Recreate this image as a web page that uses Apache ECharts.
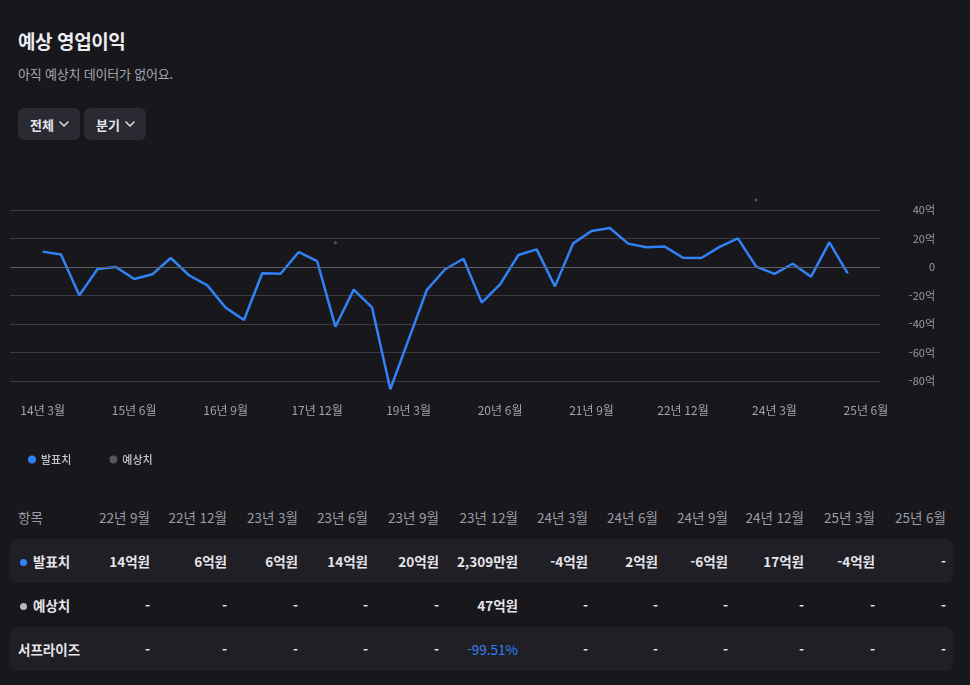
<!DOCTYPE html>
<html lang="ko">
<head>
<meta charset="utf-8">
<script src="https://cdn.jsdelivr.net/npm/echarts@6.0.0/dist/echarts.min.js"></script>
<style>
  html, body { margin: 0; padding: 0; background: #17171c; }
  body { width: 970px; height: 685px; position: relative; overflow: hidden;
         font-family: "Noto Sans CJK KR", "Noto Sans", sans-serif; color: #e8e8ec; }
  .title { position: absolute; left: 18px; top: 27px; font-size: 19px; font-weight: 700; color: #ececf0; letter-spacing: -0.4px; }
  .sub { position: absolute; left: 18px; top: 64px; font-size: 13px; color: #a5a5ad; letter-spacing: -0.2px; }
  .btn { position: absolute; top: 108px; height: 32px; border-radius: 6px; background: #2a2a32;
         font-size: 13px; font-weight: 700; color: #e4e4ea; display: flex; align-items: center; box-sizing: border-box; padding-left: 12px; }
  .btn svg { margin-left: 5px; }
  #chart { position: absolute; left: 0; top: 150px; width: 970px; height: 330px; }
  .tbl { position: absolute; left: 10px; top: 495px; width: 943px; }
  .row { position: relative; height: 44px; border-radius: 7px; }
  .row.shade { background: #1f1f25; }
  .cell { position: absolute; top: 0; height: 44px; line-height: 44px; font-size: 13.5px; white-space: nowrap; }
  .head .cell { color: #9d9da5; font-weight: 400; }
  .body .cell { font-weight: 700; color: #e6e6ea; }
  .blue { color: #3182f6 !important; font-weight: 400 !important; }
  .dot { display: inline-block; width: 7px; height: 7px; border-radius: 50%; margin-right: 6px; vertical-align: 1px; }
</style>
</head>
<body>
<div class="title">예상 영업이익</div>
<div class="sub">아직 예상치 데이터가 없어요.</div>
<div class="btn" style="left:18px;width:62px;">전체<svg width="10" height="6" viewBox="0 0 10 6"><path d="M1 1 L5 5 L9 1" stroke="#d8d8de" stroke-width="1.6" fill="none" stroke-linecap="round" stroke-linejoin="round"/></svg></div>
<div class="btn" style="left:84px;width:62px;">분기<svg width="10" height="6" viewBox="0 0 10 6"><path d="M1 1 L5 5 L9 1" stroke="#d8d8de" stroke-width="1.6" fill="none" stroke-linecap="round" stroke-linejoin="round"/></svg></div>
<div id="chart"></div>
<div class="tbl" id="tbl"></div>
<script>
// quarters, 14년 3월 ~ 25년 6월
var quarters = [
  '14년 3월', '14년 6월', '14년 9월', '14년 12월',
  '15년 3월', '15년 6월', '15년 9월', '15년 12월',
  '16년 3월', '16년 6월', '16년 9월', '16년 12월',
  '17년 3월', '17년 6월', '17년 9월', '17년 12월',
  '18년 3월', '18년 6월', '18년 9월', '18년 12월',
  '19년 3월', '19년 6월', '19년 9월', '19년 12월',
  '20년 3월', '20년 6월', '20년 9월', '20년 12월',
  '21년 3월', '21년 6월', '21년 9월', '21년 12월',
  '22년 3월', '22년 6월', '22년 9월', '22년 12월',
  '23년 3월', '23년 6월', '23년 9월', '23년 12월',
  '24년 3월', '24년 6월', '24년 9월', '24년 12월',
  '25년 3월', '25년 6월'
];

// 발표치 (억원)
var actual = [
  10.8, 8.7, -19.9, -1.4, 0, -8.4, -5.1, 6.3,
  -5.8, -12.9, -28.5, -37.2, -4.4, -4.7, 10.5, 4.2,
  -41.9, -15.9, -28.3, -85.8, -51, -16.1, -1.6, 5.8,
  -25.0, -12.2, 8.4, 12.4, -13.6, 16.6, 25.3, 27.4,
  16.4, 13.8, 14.3, 6.5, 6.3, 14.1, 20.1, 0.2309,
  -4.8, 2.3, -6.8, 17.3, -4.4, null
];

// 예상치 (억원)
var estimate = [
  null, null, null, null, null, null, null, null,
  null, null, null, null, null, null, null, null,
  17.1, null, null, null, null, null, null, null,
  null, null, null, null, null, null, null, null,
  null, null, null, null, null, null, null, 47,
  null, null, null, null, null, null
];

var xLabelIdx = [0, 5, 10, 15, 20, 25, 30, 35, 40, 45];
var yTicks = [-80, -60, -40, -20, 0, 20, 40];
var tableFrom = 34; // 22년 9월부터 표에 표시

var blue = '#3182f6';
var grey = '#66666e';

function pairs(arr) {
  var out = [];
  arr.forEach(function (v, i) { if (v !== null) out.push([i, v]); });
  return out;
}

var chart = echarts.init(document.getElementById('chart'));

chart.setOption({
  backgroundColor: 'transparent',
  animation: false,
  textStyle: { fontFamily: '"Noto Sans CJK KR", sans-serif' },
  legend: {
    data: ['발표치', '예상치'],
    left: 23,
    top: 299,
    icon: 'circle',
    itemWidth: 8,
    itemHeight: 8,
    itemGap: 38,
    textStyle: { color: '#c4c4cc', fontSize: 11, fontWeight: 500 }
  },
  grid: { left: 10, right: 90, top: 60, height: 171 },
  xAxis: {
    type: 'value',
    min: -1.787,
    max: 45.768,
    splitLine: { show: false },
    axisLine: { show: false },
    axisTick: { show: false },
    axisLabel: {
      customValues: xLabelIdx,
      color: '#a2a2aa',
      fontSize: 12,
      margin: 23,
      formatter: function (v) { return quarters[v] || ''; }
    }
  },
  yAxis: {
    type: 'value',
    position: 'right',
    min: yTicks[0],
    max: yTicks[yTicks.length - 1],
    interval: 20,
    axisLine: { show: false },
    axisTick: { show: false },
    splitLine: { lineStyle: { color: '#3a3a41', width: 1 } },
    axisLabel: {
      color: '#9d9da5',
      fontSize: 11,
      margin: 55,
      align: 'right',
      formatter: function (v) { return v === 0 ? '0' : v + '억'; }
    }
  },
  series: [
    {
      name: '발표치',
      type: 'line',
      data: pairs(actual),
      showSymbol: false,
      symbol: 'none',
      clip: false,
      itemStyle: { color: blue },
      lineStyle: { color: blue, width: 2.5 },
      z: 3,
      markLine: {
        silent: true,
        symbol: 'none',
        label: { show: false },
        lineStyle: { color: '#5e5e66', width: 1, type: 'solid' },
        data: [{ yAxis: 0 }]
      }
    },
    {
      name: '예상치',
      type: 'scatter',
      data: pairs(estimate),
      symbolSize: 3,
      clip: false,
      itemStyle: { color: grey },
      z: 2
    }
  ]
});

// table below the chart
var colRight = [140, 217, 288, 358, 429, 508, 578, 648, 718, 794, 865, 936];

function fmt(v) {
  if (v === null) return '-';
  if (Math.abs(v) < 1) {
    return Math.round(v * 10000).toLocaleString('en-US') + '만원';
  }
  return Math.trunc(v) + '억원';
}

function surprise(a, e) {
  if (a === null || e === null) return '-';
  return ((a - e) / e * 100).toFixed(2) + '%';
}

function cell(text, right, cls) {
  return '<div class="cell' + (cls ? ' ' + cls : '') + '" style="right:' + (943 - right) + 'px">' + text + '</div>';
}

var h = '<div class="row head"><div class="cell" style="left:8px">항목</div>';
var r1 = '<div class="row body shade"><div class="cell" style="left:10px"><span class="dot" style="background:' + blue + '"></span>발표치</div>';
var r2 = '<div class="row body"><div class="cell" style="left:10px"><span class="dot" style="background:#b4b8c0"></span>예상치</div>';
var r3 = '<div class="row body shade"><div class="cell" style="left:8px">서프라이즈</div>';
for (var i = 0; i < colRight.length; i++) {
  var q = tableFrom + i;
  h += cell(quarters[q], colRight[i]);
  r1 += cell(fmt(actual[q]), colRight[i]);
  r2 += cell(fmt(estimate[q]), colRight[i]);
  var s = surprise(actual[q], estimate[q]);
  r3 += cell(s, colRight[i], s !== '-' ? 'blue' : '');
}
document.getElementById('tbl').innerHTML = h + '</div>' + r1 + '</div>' + r2 + '</div>' + r3 + '</div>';
</script>
</body>
</html>
